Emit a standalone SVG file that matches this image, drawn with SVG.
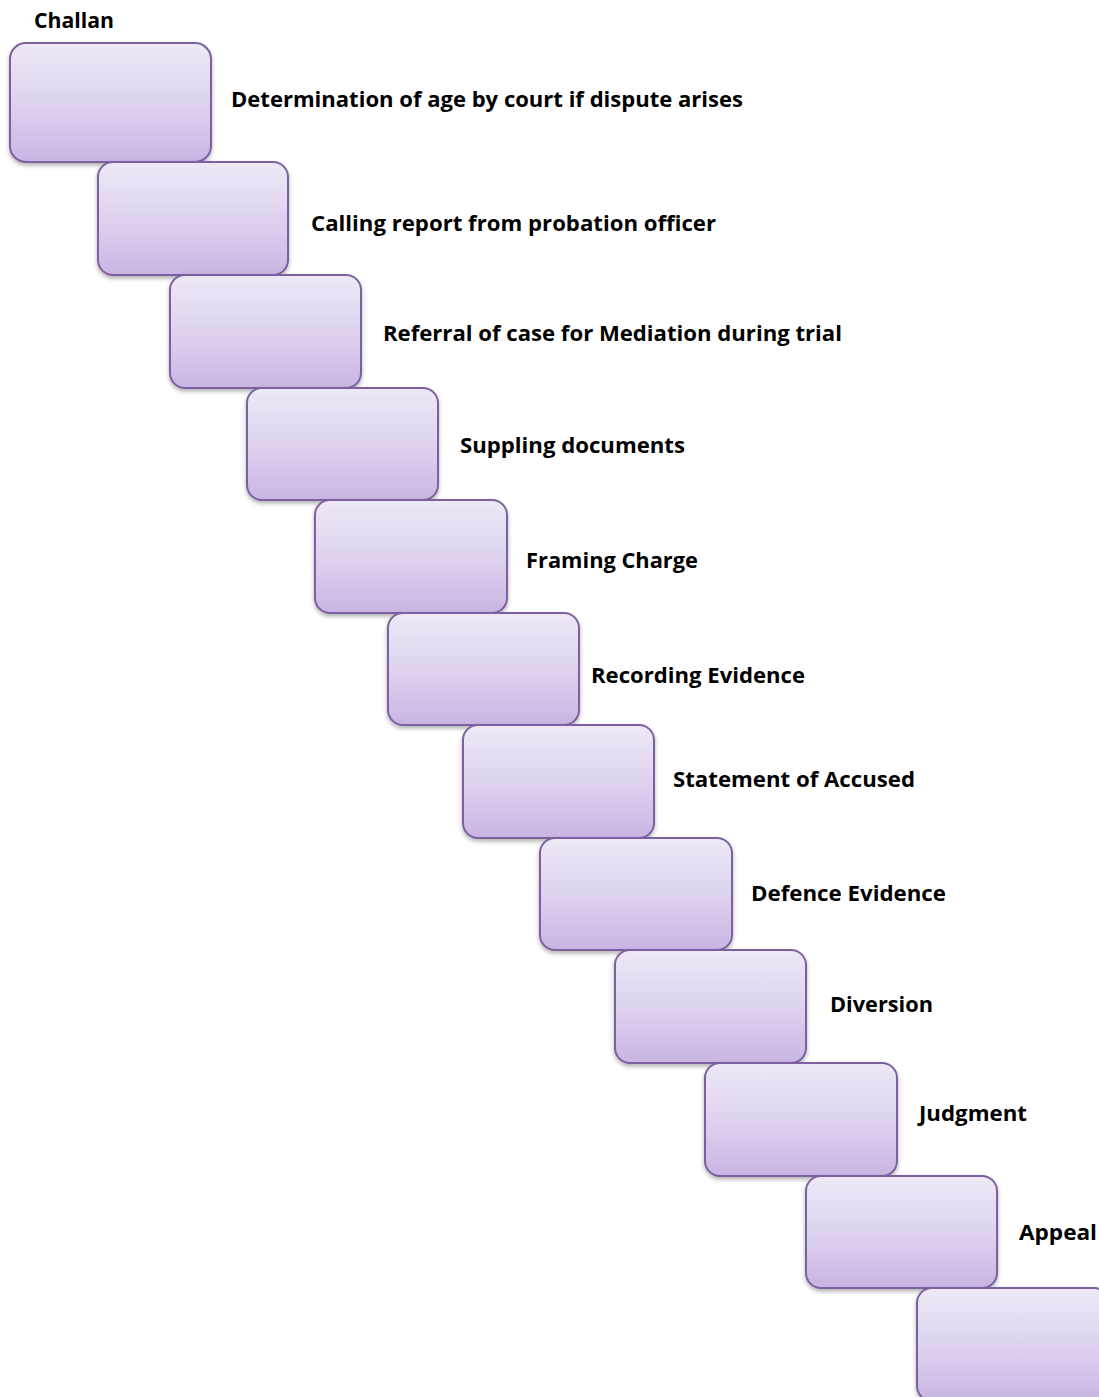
<svg xmlns="http://www.w3.org/2000/svg" width="1099" height="1397" viewBox="0 0 1099 1397">
<defs>
<linearGradient id="g" x1="0" y1="0" x2="0" y2="1">
<stop offset="0" stop-color="#EEE8F6"/>
<stop offset="0.55" stop-color="#DCD0EE"/>
<stop offset="1" stop-color="#C8B5E3"/>
</linearGradient>
<filter id="sh" x="-10%" y="-10%" width="120%" height="130%">
<feDropShadow dx="0" dy="2.5" stdDeviation="2" flood-color="#000" flood-opacity="0.3"/>
</filter>
<style>
.b{fill:url(#g);stroke:#7D60A0;stroke-width:2;filter:url(#sh)}
.t{font-family:"Open Sans","Liberation Sans",sans-serif;font-weight:bold;font-size:22px;fill:#000}
</style>
</defs>
<rect width="1099" height="1397" fill="#fff"/>
<text class="t" x="34" y="28" textLength="80" lengthAdjust="spacingAndGlyphs">Challan</text>
<g id="n1"><rect class="b" x="10" y="43" width="201" height="119" rx="16"/><text class="t" x="231" y="107" textLength="512" lengthAdjust="spacingAndGlyphs">Determination of age by court if dispute arises</text></g>
<g id="n2"><rect class="b" x="98" y="162" width="190" height="113" rx="15"/><text class="t" x="311" y="231" textLength="405" lengthAdjust="spacingAndGlyphs">Calling report from probation officer</text></g>
<g id="n3"><rect class="b" x="170" y="275" width="191" height="113" rx="15"/><text class="t" x="383" y="341" textLength="459" lengthAdjust="spacingAndGlyphs">Referral of case for Mediation during trial</text></g>
<g id="n4"><rect class="b" x="247" y="388" width="191" height="112" rx="15"/><text class="t" x="460" y="453" textLength="225" lengthAdjust="spacingAndGlyphs">Suppling documents</text></g>
<g id="n5"><rect class="b" x="315" y="500" width="192" height="113" rx="15"/><text class="t" x="526" y="568" textLength="172" lengthAdjust="spacingAndGlyphs">Framing Charge</text></g>
<g id="n6"><rect class="b" x="388" y="613" width="191" height="112" rx="15"/><text class="t" x="591" y="683" textLength="214" lengthAdjust="spacingAndGlyphs">Recording Evidence</text></g>
<g id="n7"><rect class="b" x="463" y="725" width="191" height="113" rx="15"/><text class="t" x="673" y="787" textLength="242" lengthAdjust="spacingAndGlyphs">Statement of Accused</text></g>
<g id="n8"><rect class="b" x="540" y="838" width="192" height="112" rx="15"/><text class="t" x="751" y="901" textLength="195" lengthAdjust="spacingAndGlyphs">Defence Evidence</text></g>
<g id="n9"><rect class="b" x="615" y="950" width="191" height="113" rx="15"/><text class="t" x="830" y="1012" textLength="103" lengthAdjust="spacingAndGlyphs">Diversion</text></g>
<g id="n10"><rect class="b" x="705" y="1063" width="192" height="113" rx="15"/><text class="t" x="919" y="1121" textLength="108" lengthAdjust="spacingAndGlyphs">Judgment</text></g>
<g id="n11"><rect class="b" x="806" y="1176" width="191" height="112" rx="15"/><text class="t" x="1019" y="1240" textLength="78" lengthAdjust="spacingAndGlyphs">Appeal</text></g>
<g id="n12"><rect class="b" x="917" y="1288" width="192" height="113" rx="15"/></g>
<g id="connectors"/>
</svg>
